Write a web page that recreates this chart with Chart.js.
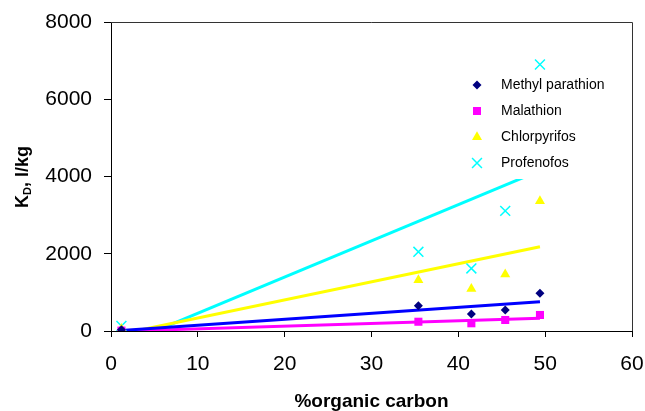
<!DOCTYPE html>
<html>
<head>
<meta charset="utf-8">
<script src="https://cdn.jsdelivr.net/npm/chart.js@4.4.1/dist/chart.umd.min.js"></script>
<style>
  html, body { margin: 0; padding: 0; background: #fff; }
  #wrap { width: 645px; height: 411px; position: relative; }
</style>
</head>
<body>
<div id="wrap"><canvas id="chart" width="645" height="411"></canvas></div>
<script>
// % organic carbon of the soils
const carbon = [1.2, 35.4, 41.5, 45.4, 49.4];

// K_D values (l/kg)
const methylParathion = [30, 655, 440, 545, 975];
const malathion = [10, 240, 200, 285, 415];
const chlorpyrifos = [60, 1320, 1090, 1465, 3365];
const profenofos = [130, 2050, 1620, 3110, 6900];

// linear trend lines, start and end
const trendX = [1.2, 49.4];
const methylTrend = [13, 760];
const malathionTrend = [-5, 330];
const chlorpyrifosTrend = [-75, 2180];
const profenofosTrend = [-365, 4150];

const xTicks = [0, 10, 20, 30, 40, 50, 60];
const yTicks = [0, 2000, 4000, 6000, 8000];

const FONT = 'Arial, "Liberation Sans", sans-serif';

function pts(xs, ys) {
  return xs.map((x, i) => ({ x: x, y: ys[i] }));
}

const series = [
  { label: "Methyl parathion", data: methylParathion, color: "#000080", style: "rectRot", radius: 4.5 },
  { label: "Malathion", data: malathion, color: "#ff00ff", style: "rect", radius: 5.7 },
  { label: "Chlorpyrifos", data: chlorpyrifos, color: "#ffff00", style: "triangle", radius: 5.8 },
  { label: "Profenofos", data: profenofos, color: "#00ffff", style: "crossRot", radius: 7 }
];

const trends = [
  { data: methylTrend, color: "#0000ff" },
  { data: malathionTrend, color: "#ff00ff" },
  { data: chlorpyrifosTrend, color: "#ffff00" },
  { data: profenofosTrend, color: "#00ffff" }
];

let datasets = [];
series.forEach(s => {
  datasets.push({
    type: "scatter",
    label: s.label,
    data: pts(carbon, s.data),
    pointStyle: s.style,
    pointRadius: s.radius,
    pointBackgroundColor: s.color,
    pointBorderColor: s.color,
    pointBorderWidth: s.style === "crossRot" ? 1.5 : 0,
    showLine: false
  });
});
trends.forEach(t => {
  datasets.push({
    type: "line",
    label: "",
    data: pts(trendX, t.data),
    borderColor: t.color,
    borderWidth: 3,
    pointRadius: 0,
    tension: 0,
    fill: false
  });
});

// frame, axis titles and the legend box inside the plot
const extras = {
  id: "extras",
  afterDatasetsDraw(chart) {
    const ctx = chart.ctx;
    const a = chart.chartArea;
    ctx.save();

    // top and right edges of the plot box
    ctx.strokeStyle = "#333";
    ctx.lineWidth = 1;
    ctx.beginPath();
    ctx.moveTo(a.left, a.top + 0.5);
    ctx.lineTo(a.right + 0.5, a.top + 0.5);
    ctx.lineTo(a.right + 0.5, a.bottom);
    ctx.stroke();

    // legend
    ctx.fillStyle = "#fff";
    ctx.fillRect(462, 73, 158, 106);
    const rows = [85, 111, 137, 163];
    ctx.font = "14px " + FONT;
    ctx.textBaseline = "middle";
    ctx.textAlign = "left";
    series.forEach((s, i) => {
      ctx.fillStyle = s.color;
      ctx.strokeStyle = s.color;
      ctx.lineWidth = s.style === "crossRot" ? 1.5 : 0;
      if (Chart.helpers && Chart.helpers.drawPoint) {
        Chart.helpers.drawPoint(ctx, {
          pointStyle: s.style, radius: s.radius, rotation: 0,
          borderWidth: s.style === "crossRot" ? 1.5 : 0
        }, 477, rows[i]);
      }
      ctx.fillStyle = "#000";
      ctx.fillText(s.label, 501, rows[i]);
    });

    // y title: K with subscript D
    ctx.fillStyle = "#000";
    ctx.translate(22, 177);
    ctx.rotate(-Math.PI / 2);
    ctx.textBaseline = "alphabetic";
    const big = "bold 18px " + FONT;
    const small = "bold 11px " + FONT;
    ctx.font = big;
    const wK = ctx.measureText("K").width;
    const wRest = ctx.measureText(", l/kg").width;
    ctx.font = small;
    const wD = ctx.measureText("D").width;
    let x0 = -(wK + wD + wRest) / 2;
    ctx.font = big;
    ctx.fillText("K", x0, 6);
    ctx.font = small;
    ctx.fillText("D", x0 + wK, 9);
    ctx.font = big;
    ctx.fillText(", l/kg", x0 + wK + wD, 6);
    ctx.setTransform(1, 0, 0, 1, 0, 0);

    // x title
    ctx.font = "bold 19px " + FONT;
    ctx.textAlign = "center";
    ctx.fillText("%organic carbon", (a.left + a.right) / 2, 407);

    ctx.restore();
  }
};

new Chart(document.getElementById("chart"), {
  type: "scatter",
  data: { datasets: datasets },
  options: {
    responsive: false,
    animation: false,
    events: [],
    layout: { padding: { top: 22, right: 13, left: 0, bottom: 0 } },
    plugins: {
      legend: { display: false },
      tooltip: { enabled: false }
    },
    scales: {
      x: {
        type: "linear",
        min: 0,
        max: 60,
        afterFit: scale => {
          scale.height = 80;
          scale.paddingLeft = 0;
          scale.paddingRight = 0;
        },
        afterBuildTicks: scale => { scale.ticks = xTicks.map(v => ({ value: v })); },
        border: { color: "#000", width: 1 },
        grid: { drawOnChartArea: false, drawTicks: true, tickLength: 6, tickColor: "#000" },
        ticks: {
          color: "#000", font: { family: FONT, size: 21 }, padding: 15, maxRotation: 0,
          callback: v => String(v)
        }
      },
      y: {
        type: "linear",
        min: 0,
        max: 8000,
        afterFit: scale => {
          scale.width = 111;
          scale.paddingTop = 0;
          scale.paddingBottom = 0;
        },
        afterBuildTicks: scale => { scale.ticks = yTicks.map(v => ({ value: v })); },
        border: { color: "#000", width: 1 },
        grid: { drawOnChartArea: false, drawTicks: true, tickLength: 7, tickColor: "#000" },
        ticks: {
          color: "#000", font: { family: FONT, size: 21 }, padding: 12,
          callback: v => String(v)
        }
      }
    }
  },
  plugins: [extras]
});
</script>
</body>
</html>
